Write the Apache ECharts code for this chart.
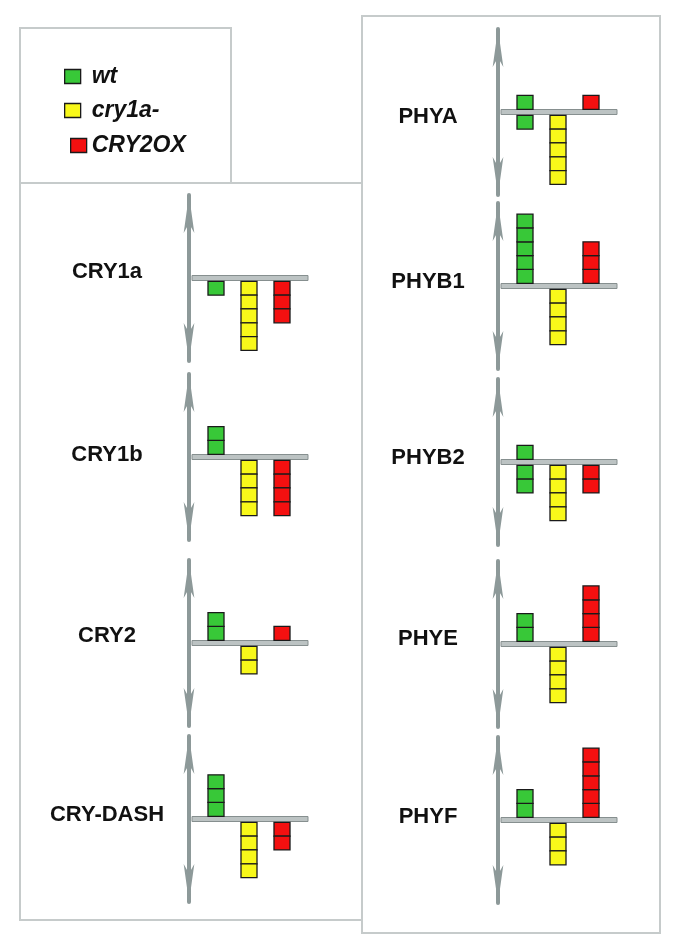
<!DOCTYPE html>
<html>
<head>
<meta charset="utf-8">
<script src="https://cdn.jsdelivr.net/npm/echarts@6/dist/echarts.min.js"></script>
<style>
html,body{margin:0;padding:0;background:#fff;}
#chart{width:678px;height:950px;}
</style>
</head>
<body>
<div id="chart"></div>
<script>
// ---- data ----
const genes = ['CRY1a', 'CRY1b', 'CRY2', 'CRY-DASH', 'PHYA', 'PHYB1', 'PHYB2', 'PHYE', 'PHYF'];
const genotypes = ['wt', 'cry1a-', 'CRY2OX'];
// number of squares above (up) and below (down) the baseline
const wtUp      = [0, 2, 2, 3, 1, 5, 1, 2, 2];
const wtDown    = [1, 0, 0, 0, 1, 0, 2, 0, 0];
const cry1aUp   = [0, 0, 0, 0, 0, 0, 0, 0, 0];
const cry1aDown = [5, 4, 2, 4, 5, 4, 4, 4, 3];
const cry2oxUp  = [0, 0, 1, 0, 1, 3, 0, 4, 5];
const cry2oxDown= [3, 4, 0, 2, 0, 0, 2, 0, 0];
const yTicks = [-6, 0, 6];

// ---- layout (not data) ----
const panelSide  = ['L', 'L', 'L', 'L', 'R', 'R', 'R', 'R', 'R'];
const panelBaseY = [278, 457, 643, 819, 112, 286, 462, 644, 820];
const labelX = { L: 107, R: 428 };
const labelY = [272, 455, 636, 815, 117, 282, 458, 639, 817];
const gridLeft = { L: 199.5, R: 508.5 };
const colors = { 'wt': '#38c838', 'cry1a-': '#f8f81a', 'CRY2OX': '#f41010' };
const ups = [wtUp, cry1aUp, cry2oxUp];
const downs = [wtDown, cry1aDown, cry2oxDown];

const chart = echarts.init(document.getElementById('chart'), null, { renderer: 'canvas' });

const grids = [], xAxes = [], yAxes = [], series = [], graphics = [];
const HALF = 83;

function squaresRender(color) {
  return function (params, api) {
    const cat = api.value(0), up = api.value(1), down = api.value(2);
    const p0 = api.coord([cat, 0]);
    const unit = p0[1] - api.coord([cat, 1])[1];
    const w = api.size([1, 0])[0] * 0.485;
    const children = [];
    const st = { fill: color, stroke: '#1a1a1a', lineWidth: 1.3 };
    for (let k = 0; k < up; k++) {
      children.push({ type: 'rect', shape: { x: p0[0] - w / 2, y: p0[1] - 2.7 - (k + 1) * unit, width: w, height: unit }, style: st });
    }
    for (let k = 0; k < down; k++) {
      children.push({ type: 'rect', shape: { x: p0[0] - w / 2, y: p0[1] + 3.3 + k * unit, width: w, height: unit }, style: st });
    }
    return { type: 'group', children };
  };
}

function baselineRender(params, api) {
  const cs = params.coordSys;
  const y0 = api.coord([0, 0])[1];
  return { type: 'rect', shape: { x: cs.x - 7.5, y: y0 - 2.5, width: cs.width + 17, height: 5 },
           style: { fill: '#bcc3c3', stroke: '#868f8f', lineWidth: 1 } };
}

genes.forEach((g, i) => {
  const side = panelSide[i];
  grids.push({ left: gridLeft[side], top: panelBaseY[i] - HALF, width: 99, height: HALF * 2 });
  xAxes.push({ type: 'category', gridIndex: i, data: genotypes, show: false });
  yAxes.push({
    type: 'value', gridIndex: i, min: yTicks[0], max: yTicks[2], interval: 6, offset: 10.5,
    axisLabel: { show: false }, axisTick: { show: false }, splitLine: { show: false },
    axisLine: { show: true, onZero: false, symbol: ['arrow', 'arrow'], symbolSize: [8, 38], symbolOffset: [0, 0],
      lineStyle: { color: '#8d9999', width: 4 } }
  });
  series.push({ type: 'custom', xAxisIndex: i, yAxisIndex: i, data: [[0]], renderItem: baselineRender, silent: true, z: 1 });
  genotypes.forEach((gt, j) => {
    series.push({
      type: 'custom', name: gt, xAxisIndex: i, yAxisIndex: i, z: 3,
      itemStyle: { color: colors[gt] },
      data: [[j, ups[j][i], downs[j][i]]],
      renderItem: squaresRender(colors[gt])
    });
  });
  graphics.push({ type: 'text', x: labelX[side], y: labelY[i],
    style: { text: g, textAlign: 'center', textVerticalAlign: 'middle', fill: '#111',
      font: 'bold 22px "Liberation Sans", Arial, sans-serif' } });
});

// frames
const frameStyle = { stroke: '#c6cbcb', lineWidth: 2, fill: null };
graphics.push({ type: 'polyline', shape: { points: [[20, 183], [20, 28], [231, 28], [231, 183]] }, style: frameStyle });
graphics.push({ type: 'rect', shape: { x: 20, y: 183, width: 342, height: 737 }, style: frameStyle });
graphics.push({ type: 'rect', shape: { x: 362, y: 16, width: 298, height: 917 }, style: frameStyle });

const legendText = { fontFamily: '"Liberation Sans", Arial, sans-serif', fontSize: 23, fontWeight: 'bold', fontStyle: 'italic', color: '#111', lineHeight: 22 };
const legends = [
  { name: 'wt', left: 59, top: 60, pad: 6 },
  { name: 'cry1a-', left: 59, top: 94, pad: 6 },
  { name: 'CRY2OX', left: 65, top: 129, pad: 0 }
].map(l => ({
  data: [l.name], left: l.left, top: l.top, icon: 'rect', itemWidth: 16, itemHeight: 14, selectedMode: false,
  itemStyle: { borderColor: '#1a1a1a', borderWidth: 1.3 },
  textStyle: Object.assign({}, legendText, { padding: [0, 0, 0, l.pad] })
}));

chart.setOption({
  backgroundColor: '#ffffff',
  animation: false,
  legend: legends,
  grid: grids,
  xAxis: xAxes,
  yAxis: yAxes,
  series: series,
  graphic: graphics
});
</script>
</body>
</html>
